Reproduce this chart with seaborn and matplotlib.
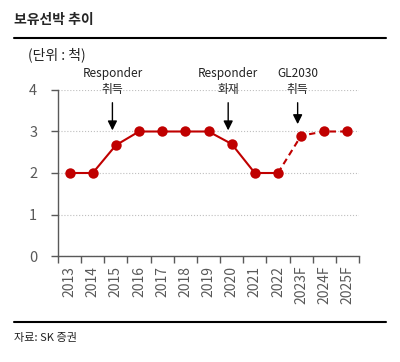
import numpy as np
import pandas as pd
import matplotlib
matplotlib.use("Agg")
import matplotlib.pyplot as plt
import seaborn as sns

# ========================
# Dados
# ========================
anos = ['2013', '2014', '2015', '2016', '2017', '2018', '2019',
        '2020', '2021', '2022', '2023F', '2024F', '2025F']
navios = [2, 2, 2.67, 3, 3, 3, 3, 2.7, 2, 2, 2.9, 3, 3]
n_real = 10  # 2013~2022 real, depois previsão

eventos = ['Responder\n취득', 'Responder\n화재', 'GL2030\n취득']
eventos_idx = [2, 7, 10]

# ========================
# Estilo
# ========================
sns.set_theme(style="white")
plt.rcParams['font.family'] = ['Noto Sans CJK KR', 'DejaVu Sans']

vermelho = '#C00000'
cinza = '#595959'

df = pd.DataFrame({'idx': np.arange(len(anos)), 'ano': anos, 'navios': navios})
df_real = df.iloc[:n_real]
df_prev = df.iloc[n_real - 1:]

fig = plt.figure(figsize=(4.0, 3.62), dpi=100)
ax = fig.add_axes([0.145, 0.2928, 0.7525, 0.4586])

sns.lineplot(data=df_real, x='idx', y='navios', ax=ax, color=vermelho,
             linewidth=1.5, marker='o', markersize=7.5, markeredgewidth=0)
sns.lineplot(data=df_prev.iloc[1:], x='idx', y='navios', ax=ax, color=vermelho,
             linewidth=0, marker='o', markersize=7.5, markeredgewidth=0)
ax.plot(df_prev['idx'], df_prev['navios'], color=vermelho, linewidth=1.5,
        linestyle=(0, (3, 2)))

ax.set_xlim(-0.5, len(anos) - 0.5)
ax.set_ylim(0, 4)
ax.set_yticks([0, 1, 2, 3, 4])
ax.set_xticks(np.arange(len(anos)))
ax.set_xticklabels(anos, rotation=90)
ax.set_xticks(np.arange(-0.5, len(anos)), minor=True)
ax.tick_params(axis='x', which='major', length=0, pad=7, labelsize=10, labelcolor=cinza)
ax.tick_params(axis='x', which='minor', length=5, width=1, color=cinza, direction='out', bottom=True)
ax.tick_params(axis='y', length=5, width=1, color=cinza, direction='out', left=True,
               labelsize=10.5, labelcolor=cinza, pad=10)
ax.set_xlabel('')
ax.set_ylabel('')

ax.grid(axis='y', color='#BFBFBF', linestyle=':', linewidth=0.8)
ax.set_axisbelow(True)
for lado in ['top', 'right']:
    ax.spines[lado].set_visible(False)
for lado in ['left', 'bottom']:
    ax.spines[lado].set_color(cinza)
    ax.spines[lado].set_linewidth(1)

# setas de eventos
pontas = [2.96, 2.96, 3.11]
for texto, i, ponta in zip(eventos, eventos_idx, pontas):
    xi = i - 0.15
    ax.annotate('', xy=(xi, ponta), xytext=(xi, 3.76),
                arrowprops=dict(arrowstyle='-|>', color='black', lw=1, mutation_scale=14))
    ax.text(xi, 4.2, texto, ha='center', va='center', fontsize=8.5,
            color='#222222', linespacing=1.3, clip_on=False)

# título e rodapé
fig.text(0.035, 0.945, '보유선박 추이', fontsize=10, fontweight='bold', ha='left', va='center')
fig.add_artist(plt.Line2D([0.035, 0.965], [0.895, 0.895], color='black', lw=1.5))
fig.text(0.07, 0.848, '(단위 : 척)', fontsize=10, ha='left', va='center', color='#222222')
fig.add_artist(plt.Line2D([0.035, 0.965], [0.11, 0.11], color='black', lw=1.5))
fig.text(0.035, 0.066, '자료: SK 증권', fontsize=8, ha='left', va='center', color='#222222')

fig.savefig('out.png', dpi=100)
